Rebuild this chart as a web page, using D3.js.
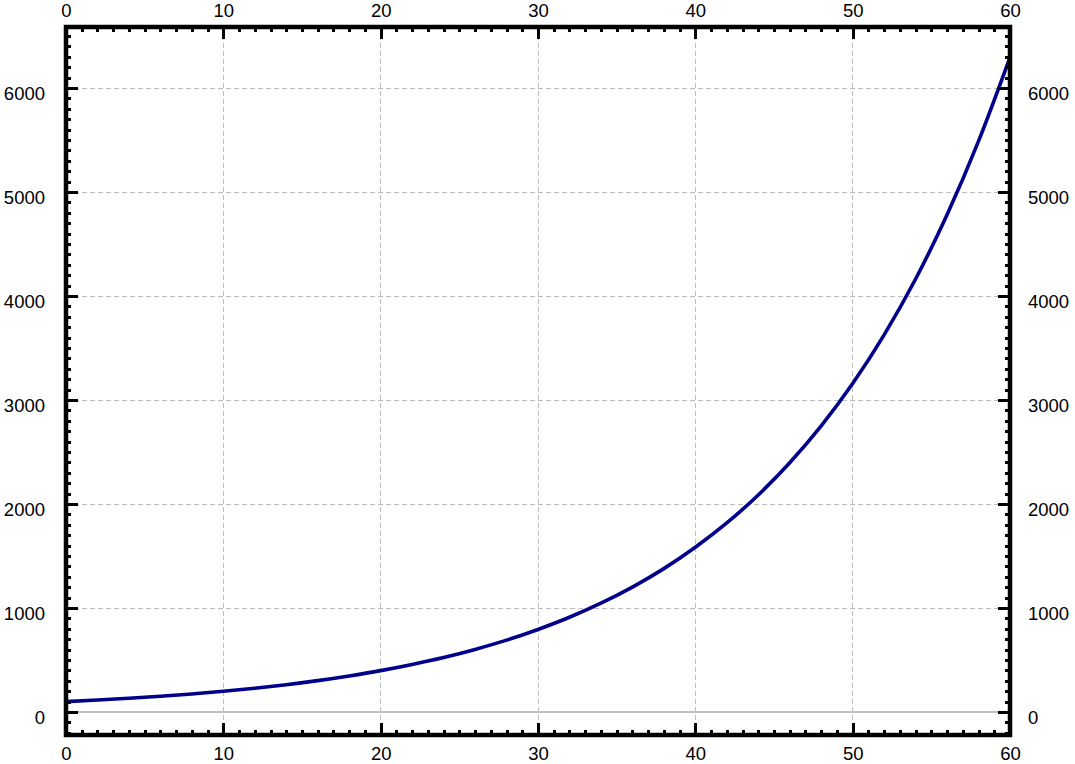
<!DOCTYPE html>
<html>
<head>
<meta charset="utf-8">
<script src="https://cdn.jsdelivr.net/npm/d3@7"></script>
<style>
  body { margin: 0; background: #fff; }
  svg { display: block; }
  .tick text { font-family: "Liberation Sans", Arial, sans-serif; font-size: 18.5px; fill: #000; }
  .tick line { stroke: #000; shape-rendering: crispEdges; }
  .grid line { stroke: #bdbdbd; stroke-width: 1; stroke-dasharray: 5,3; shape-rendering: crispEdges; }
</style>
</head>
<body>
<script>
// curve samples
var xs = [0, 2, 4, 6, 8, 10, 12, 14, 16, 18, 20, 22, 24, 26, 28, 30,
          32, 34, 36, 38, 40, 42, 44, 46, 48, 50, 52, 54, 56, 58, 60];
var ys = [100, 115, 132, 151, 174, 199, 229, 263, 302, 347, 398, 457, 524, 602, 691, 794,
          911, 1046, 1201, 1379, 1584, 1818, 2087, 2397, 2752, 3159, 3627, 4164, 4781, 5489, 6295];

var xMajor = [0, 10, 20, 30, 40, 50, 60];
var yMajor = [0, 1000, 2000, 3000, 4000, 5000, 6000];

var W = 1075, H = 764;
var pLeft = 66, pRight = 1010, pTop = 27, pBottom = 735;

var x = d3.scaleLinear().domain([0, 60]).range([pLeft, pRight]);
var y = d3.scaleLinear().domain([-221, 6587]).range([pBottom, pTop]);

var svg = d3.select("body").append("svg")
  .attr("width", W)
  .attr("height", H);

// grid
var grid = svg.append("g").attr("class", "grid");
grid.selectAll("line.gx")
  .data(xMajor.filter(function (d) { return d > 0 && d < 60; }))
  .enter().append("line")
  .attr("x1", function (d) { return x(d); })
  .attr("x2", function (d) { return x(d); })
  .attr("y1", pTop)
  .attr("y2", pBottom);
grid.selectAll("line.gy")
  .data(yMajor.filter(function (d) { return d > 0; }))
  .enter().append("line")
  .attr("y1", function (d) { return y(d); })
  .attr("y2", function (d) { return y(d); })
  .attr("x1", pLeft)
  .attr("x2", pRight);

// zero line
svg.append("line")
  .attr("x1", pLeft).attr("x2", pRight)
  .attr("y1", y(0)).attr("y2", y(0))
  .attr("stroke", "#c0c0c0")
  .attr("stroke-width", 2);

// curve
var pts = xs.map(function (d, i) { return [d, ys[i]]; });
var line = d3.line()
  .x(function (d) { return x(d[0]); })
  .y(function (d) { return y(d[1]); })
  .curve(d3.curveMonotoneX);

svg.append("path")
  .datum(pts)
  .attr("d", line)
  .attr("fill", "none")
  .attr("stroke", "#00008b")
  .attr("stroke-width", 3.6)
  .attr("stroke-linejoin", "round");

// minor ticks
var xMinor = d3.range(0, 61, 1).filter(function (d) { return d % 10 != 0; });
var yMinor = d3.range(-200, 6600, 100).filter(function (d) { return d % 1000 != 0; });

function addAxis(axis, tx, ty) {
  var g = svg.append("g")
    .attr("transform", "translate(" + tx + "," + ty + ")")
    .call(axis);
  g.select(".domain").remove();
  g.selectAll(".tick line").attr("stroke-width", 3);
  return g;
}

addAxis(d3.axisTop(x).tickValues(xMinor).tickSize(-5).tickFormat(""), 0, pTop);
addAxis(d3.axisBottom(x).tickValues(xMinor).tickSize(-5).tickFormat(""), 0, pBottom);
addAxis(d3.axisLeft(y).tickValues(yMinor).tickSize(-5).tickFormat(""), pLeft, 0);
addAxis(d3.axisRight(y).tickValues(yMinor).tickSize(-5).tickFormat(""), pRight, 0);

// major ticks + labels
var gt = addAxis(d3.axisTop(x).tickValues(xMajor).tickSize(-12).tickPadding(10).tickFormat(d3.format("d")), 0, pTop);
var gb = addAxis(d3.axisBottom(x).tickValues(xMajor).tickSize(-12).tickPadding(25).tickFormat(d3.format("d")), 0, pBottom);
gt.selectAll(".tick text").attr("dy", null);
gb.selectAll(".tick text").attr("dy", null);

var gl = addAxis(d3.axisLeft(y).tickValues(yMajor).tickSize(-12).tickPadding(21).tickFormat(d3.format("d")), pLeft, 0);
var gr = addAxis(d3.axisRight(y).tickValues(yMajor).tickSize(-12).tickPadding(18).tickFormat(d3.format("d")), pRight, 0);
gl.selectAll(".tick text").attr("dy", "0.6em");
gr.selectAll(".tick text").attr("dy", "0.6em");

// frame
svg.append("rect")
  .attr("x", pLeft)
  .attr("y", pTop)
  .attr("width", pRight - pLeft)
  .attr("height", pBottom - pTop)
  .attr("fill", "none")
  .attr("stroke", "#000")
  .attr("stroke-width", 4.5);
</script>
</body>
</html>
